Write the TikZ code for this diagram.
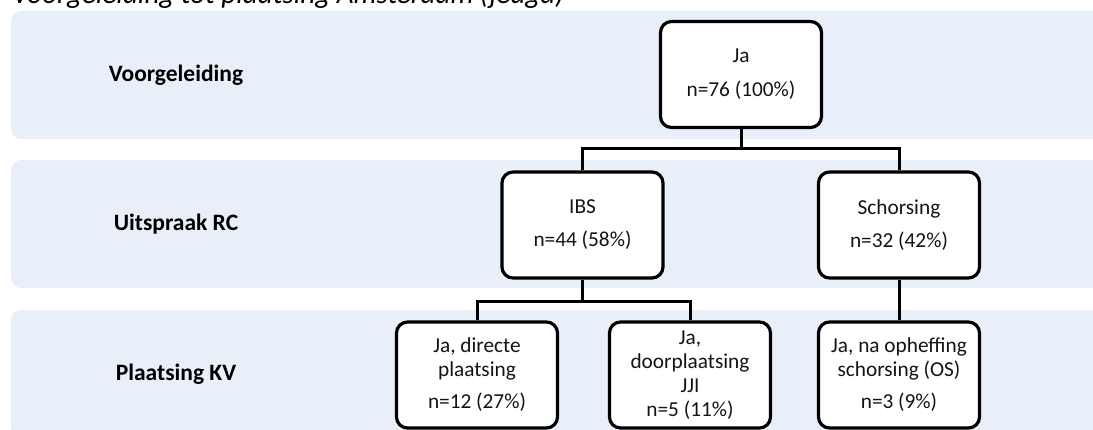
\documentclass[tikz,border=0pt]{standalone}
\usepackage{fontspec}
\setmainfont{Carlito}
\definecolor{bandfill}{RGB}{233,239,249}
\definecolor{boxtext}{RGB}{20,20,20}
\tikzset{
  band/.style={fill=bandfill, draw=none, rounded corners=10pt},
  flowbox/.style={draw=black, line width=3.2pt, rounded corners=11pt, fill=white,
    minimum width=161pt, minimum height=106pt, inner sep=0pt, align=center,
    text=boxtext, font=\fontsize{21.3}{24}\selectfont},
  rowlabel/.style={font=\fontsize{23.5}{26}\selectfont\bfseries, text=black},
  link/.style={line width=3pt, draw=black}
}
\begin{document}
\begin{tikzpicture}[x=1pt, y=-1pt]
\useasboundingbox (0,0) rectangle (1093,430);
\clip (0,0) rectangle (1093,430);
% bands
\fill[band] (11,11) rectangle (1120,139);
\fill[band] (11,160) rectangle (1120,288);
\fill[band] (11,310) rectangle (1120,438);
% title
\node[anchor=base west, inner sep=0pt, font=\fontsize{29}{30}\selectfont\itshape] (title) at (12,4) {Voorgeleiding tot plaatsing Amsterdam (jeugd)};
% row labels
\node[rowlabel] (l1) at (176,75) {Voorgeleiding};
\node[rowlabel] (l2) at (176,224) {Uitspraak RC};
\node[rowlabel] (l3) at (176,374) {Plaatsing KV};
% boxes
\node[flowbox] (top) at (741,74.5) {Ja\\[10pt]n=76 (100\%)};
\node[flowbox] (ibs) at (582.5,225) {IBS\\[9pt]n=44 (58\%)};
\node[flowbox] (sch) at (899,225) {Schorsing\\[9pt]n=32 (42\%)};
\node[flowbox] (b1) at (477,375) {Ja, directe\\plaatsing\\[8pt]n=12 (27\%)};
\node[flowbox] (b2) at (690,375) {Ja,\\doorplaatsing\\JJI\\n=5 (11\%)};
\node[flowbox] (b3) at (899,375) {Ja, na opheffing\\schorsing (OS)\\[8pt]n=3 (9\%)};
% junctions
\coordinate (j1) at (741,149);
\coordinate (j2) at (582.5,302);
% connectors
\draw[link] (top.south) -- (j1);
\draw[link] (ibs.north) |- (j1) -| (sch.north);
\draw[link] (ibs.south) -- (j2);
\draw[link] (b1.north) |- (j2) -| (b2.north);
\draw[link] (sch.south) -- (b3.north);
\end{tikzpicture}
\end{document}
